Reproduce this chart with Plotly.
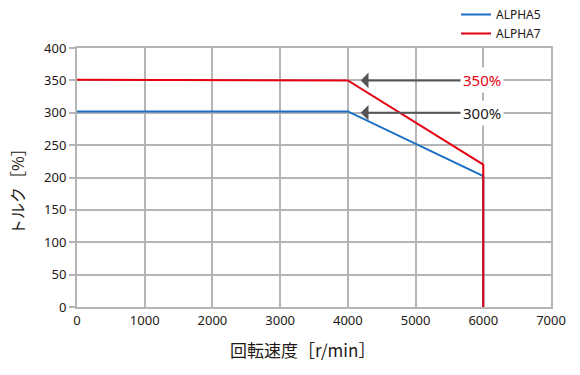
import plotly.graph_objects as go

speed_a5 = [0, 4000, 6000, 6000]
torque_a5 = [302, 302, 202, 0]
speed_a7 = [0, 4000, 6000, 6000]
torque_a7 = [351, 350, 220, 0]
series_names = ["ALPHA5", "ALPHA7"]
x_ticks = [0, 1000, 2000, 3000, 4000, 5000, 6000, 7000]
y_ticks = [0, 50, 100, 150, 200, 250, 300, 350, 400]
callouts = [("350%", 350, "#e60012"), ("300%", 300, "#231815")]

BLUE = "#1a6fc2"
RED = "#e60012"
GRID = "#b5b5b5"
TXT = "#231815"
NUM_FONT = "Noto Sans, sans-serif"
JP_FONT = "Noto Sans CJK JP, sans-serif"

fig = go.Figure()
fig.add_trace(go.Scatter(x=speed_a5, y=torque_a5, mode="lines", name=series_names[0],
                         line=dict(color=BLUE, width=2)))
fig.add_trace(go.Scatter(x=speed_a7, y=torque_a7, mode="lines", name=series_names[1],
                         line=dict(color=RED, width=2)))

for txt, val, col in callouts:
    fig.add_annotation(x=4190, y=val, ax=5980, ay=val, xref="x", yref="y",
                       axref="x", ayref="y", text=txt, showarrow=True,
                       arrowhead=1, arrowsize=1.3, arrowwidth=2, arrowcolor="#555555",
                       font=dict(family=NUM_FONT, size=15, color=col),
                       bgcolor="white", borderpad=2, standoff=0)

fig.add_annotation(x=(302 - 77) / 474, y=(307.3 - 350) / 259.6, xref="paper", yref="paper",
                   xanchor="center", yanchor="middle",
                   text="回転速度［r/min］", showarrow=False,
                   font=dict(family=JP_FONT, size=17, color=TXT))
fig.add_annotation(x=(17 - 77) / 474, y=(307.3 - 187) / 259.6, xref="paper", yref="paper",
                   xanchor="center", yanchor="middle",
                   text="トルク［%］", showarrow=False, textangle=-90,
                   font=dict(family=JP_FONT, size=16, color=TXT))

fig.update_layout(
    width=580, height=375,
    margin=dict(l=77, r=29, t=48, b=68),
    paper_bgcolor="white", plot_bgcolor="white",
    showlegend=True,
    legend=dict(x=(456 - 77) / 474, xanchor="left", y=1.0, yanchor="top",
                yref="container", font=dict(family=NUM_FONT, size=12, color=TXT),
                bgcolor="rgba(0,0,0,0)", tracegroupgap=0, itemwidth=30),
    xaxis=dict(range=[0, 7000], tickvals=x_ticks, showgrid=True, gridcolor=GRID,
               gridwidth=2, zeroline=False, showline=True, linecolor=GRID, linewidth=2,
               mirror=True, ticks="", automargin=False,
               tickfont=dict(family=NUM_FONT, size=13, color=TXT)),
    yaxis=dict(range=[0, 400], tickvals=y_ticks, showgrid=True, gridcolor=GRID,
               gridwidth=2, zeroline=False, showline=True, linecolor=GRID, linewidth=2,
               mirror=True, ticks="outside", ticklen=6, tickwidth=2, tickcolor=GRID,
               automargin=False, tickfont=dict(family=NUM_FONT, size=13, color=TXT)),
)

fig.write_html("out.html", config={"displayModeBar": False},
               post_script="document.body.style.margin='0';")
